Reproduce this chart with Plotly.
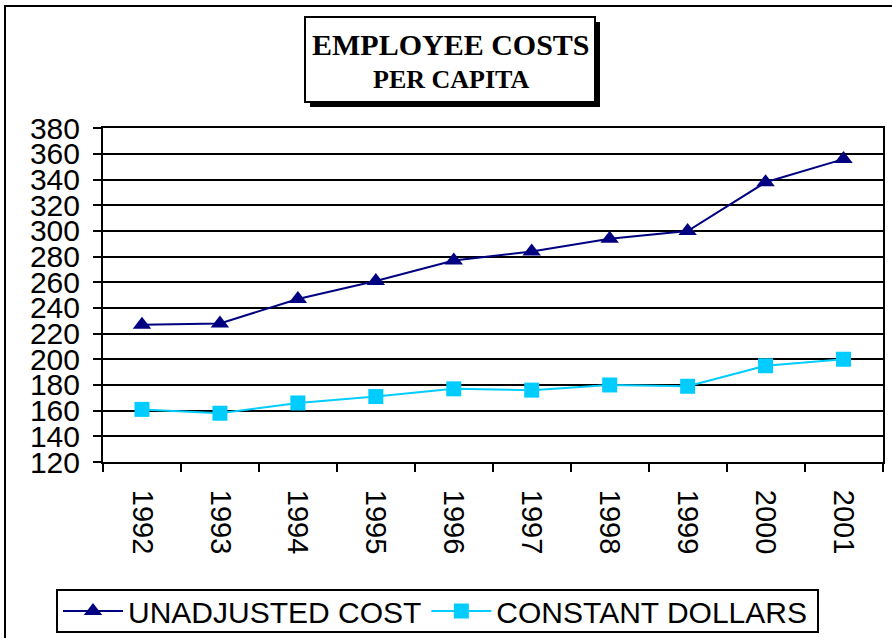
import plotly.graph_objects as go

years = ["1992", "1993", "1994", "1995", "1996", "1997", "1998", "1999", "2000", "2001"]
unadjusted_cost = [227, 228, 247, 261, 277, 284, 294, 300, 338, 356]
constant_dollars = [161, 158, 166, 171, 177, 176, 180, 179, 195, 200]
series_names = ["UNADJUSTED COST", "CONSTANT DOLLARS"]
title_line1 = "EMPLOYEE COSTS"
title_line2 = "PER CAPITA"

W, H = 892, 638
def px(x):
    return x / W
def py(y):
    return 1 - y / H

fig = go.Figure()
fig.add_trace(go.Scatter(
    x=years, y=unadjusted_cost, name=series_names[0], mode="lines+markers",
    line=dict(color="#000080", width=2),
    marker=dict(symbol="triangle-up", size=16, color="#000080"),
))
fig.add_trace(go.Scatter(
    x=years, y=constant_dollars, name=series_names[1], mode="lines+markers",
    line=dict(color="#00CCFF", width=2),
    marker=dict(symbol="square", size=15, color="#00CCFF"),
))

fig.update_layout(
    width=W, height=H,
    margin=dict(l=0, r=0, t=0, b=0),
    paper_bgcolor="white", plot_bgcolor="white",
    font=dict(family="Arial, Liberation Sans, sans-serif", color="black"),
    showlegend=True,
    legend=dict(
        orientation="h", x=px(58), y=py(611), xanchor="left", yanchor="middle",
        borderwidth=0, bgcolor="rgba(0,0,0,0)",
        font=dict(size=30, family="Arial, Liberation Sans, sans-serif"),
        itemwidth=60, tracegroupgap=0,
    ),
    xaxis=dict(
        domain=[px(103), px(882.5)],
        type="category", range=[-0.5, 9.5],
        tickson="boundaries", ticks="outside", ticklen=8, tickwidth=2, tickcolor="black",
        showline=True, linecolor="black", linewidth=2, mirror=True,
        showgrid=False, tickangle=90, ticklabelstandoff=20,
        tickfont=dict(size=29), automargin=False,
    ),
    yaxis=dict(
        domain=[py(462), py(128.3)],
        range=[120, 380], dtick=20, tick0=120,
        ticks="outside", ticklen=8, tickwidth=2, tickcolor="black",
        showline=True, linecolor="black", linewidth=2, mirror=True,
        showgrid=True, gridcolor="black", gridwidth=1.5,
        zeroline=False, ticklabelstandoff=7,
        tickfont=dict(size=30), automargin=False,
    ),
    shapes=[
        # outer chart border
        dict(type="rect", xref="paper", yref="paper",
             x0=px(5), x1=1.05, y0=-0.05, y1=py(6),
             line=dict(color="black", width=2), fillcolor="rgba(0,0,0,0)", layer="below"),
        # legend box
        dict(type="rect", xref="paper", yref="paper",
             x0=px(57), x1=px(818), y0=py(632), y1=py(590),
             line=dict(color="black", width=2), fillcolor="white", layer="below"),
        # title shadow
        dict(type="rect", xref="paper", yref="paper",
             x0=px(310), x1=px(600), y0=py(107), y1=py(22),
             line=dict(color="black", width=0), fillcolor="black"),
        # title box
        dict(type="rect", xref="paper", yref="paper",
             x0=px(305), x1=px(595), y0=py(102), y1=py(17),
             line=dict(color="black", width=2), fillcolor="white"),
    ],
    annotations=[
        dict(text="<b>" + title_line1 + "</b>", xref="paper", yref="paper",
             x=px(451), y=py(44), xanchor="center", yanchor="middle", showarrow=False,
             font=dict(family="Times New Roman, Liberation Serif, serif", size=30, color="black")),
        dict(text="<b>" + title_line2 + "</b>", xref="paper", yref="paper",
             x=px(451), y=py(79), xanchor="center", yanchor="middle", showarrow=False,
             font=dict(family="Times New Roman, Liberation Serif, serif", size=26, color="black")),
    ],
)

fig.write_html("out.html", config={"displayModeBar": False},
               post_script="document.body.style.margin='0';document.body.style.overflow='hidden';")
